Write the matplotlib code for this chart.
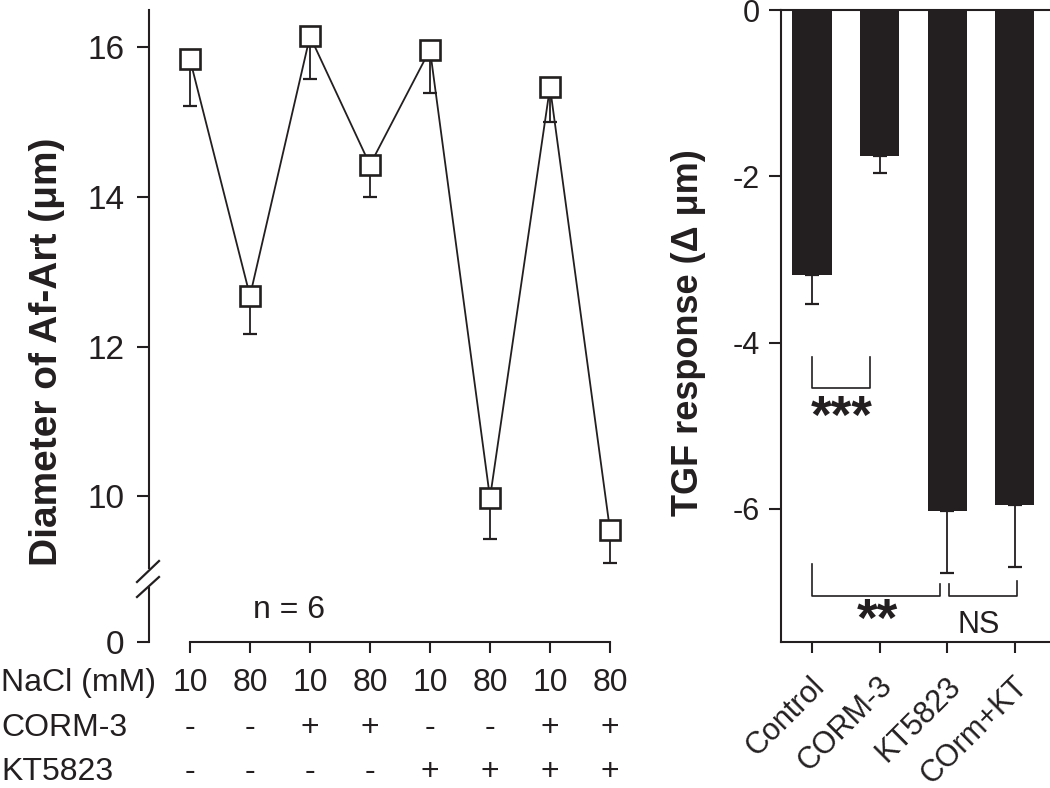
import numpy as np
import matplotlib
matplotlib.use("Agg")
import matplotlib.pyplot as plt
from matplotlib import transforms
from matplotlib.lines import Line2D

# ---------------- data ----------------
nacl_labels = ['10', '80', '10', '80', '10', '80', '10', '80']
corm_labels = ['-', '-', '+', '+', '-', '-', '+', '+']
kt_labels = ['-', '-', '-', '-', '+', '+', '+', '+']
diam_mean = [15.84, 12.68, 16.15, 14.43, 15.97, 9.98, 15.47, 9.55]
diam_sem = [0.62, 0.51, 0.57, 0.43, 0.58, 0.55, 0.47, 0.44]
diam_yticks = [10, 12, 14, 16]

groups = ['Control', 'CORM-3', 'KT5823', 'COrm+KT']
tgf_mean = [-3.19, -1.75, -6.02, -5.95]
tgf_sem = [0.34, 0.21, 0.75, 0.75]
tgf_yticks = [0, -2, -4, -6]

# ---------------- style ----------------
plt.rcParams['font.family'] = ['Liberation Sans', 'DejaVu Sans']
INK = '#231f20'
W, H = 1050, 788
fig = plt.figure(figsize=(10.5, 7.88), dpi=100)

def fx(px):
    return px / W

def fy(py):
    return 1 - py / H

SP_LW = 1.5
# ---------------- left: main (upper) axes ----------------
axL = fig.add_axes([fx(149), fy(568), fx(640 - 149), fy(10) - fy(568)])
axL.patch.set_alpha(0)
x = np.arange(len(diam_mean))
axL.errorbar(x, diam_mean, yerr=[diam_sem, np.zeros(len(diam_sem))], fmt='none',
             ecolor=INK, elinewidth=1.3, capsize=4.7, capthick=1.6, zorder=2)
axL.plot(x, diam_mean, '-', color=INK, lw=1.3, zorder=3)
axL.plot(x, diam_mean, 's', ms=14, mfc='white', mec=INK, mew=1.9, zorder=4)
axL.set_xlim(-0.683, 7.5)
axL.set_ylim(9.044, 16.50)
axL.set_yticks(diam_yticks)
axL.set_xticks([])
for s in ['top', 'right', 'bottom']:
    axL.spines[s].set_visible(False)
axL.spines['left'].set_linewidth(SP_LW)
axL.spines['left'].set_color(INK)
axL.tick_params(axis='y', length=8.5, width=SP_LW, color=INK, pad=9,
                labelsize=24, labelcolor=INK)

# ---------------- left: lower (broken) axes ----------------
axB = fig.add_axes([fx(149), fy(642), fx(640 - 149), fy(588) - fy(642)])
axB.patch.set_alpha(0)
axB.set_xlim(-0.683, 7.5)
axB.set_ylim(0, 1)
axB.set_yticks([0])
axB.set_xticks(x)
axB.set_xticklabels([])
for s in ['top', 'right']:
    axB.spines[s].set_visible(False)
for s in ['left', 'bottom']:
    axB.spines[s].set_linewidth(SP_LW)
    axB.spines[s].set_color(INK)
axB.spines['bottom'].set_bounds(0, len(x) - 1)
axB.tick_params(axis='y', length=8.5, width=SP_LW, color=INK, pad=9,
                labelsize=24, labelcolor=INK)
axB.tick_params(axis='x', length=8, width=SP_LW, color=INK)
axB.text(1.65, 0.6, 'n = 6', fontsize=23, color=INK, ha='center', va='center')

# break marks
for (x0, y0, x1, y1) in [(137, 582, 159, 561), (137, 597, 159, 577)]:
    fig.add_artist(Line2D([fx(x0), fx(x1)], [fy(y0), fy(y1)], color=INK, lw=1.6))

# condition rows
tr = transforms.blended_transform_factory(axB.transData, fig.transFigure)
rows = [('NaCl (mM)', nacl_labels, 683), ('CORM-3', corm_labels, 728), ('KT5823', kt_labels, 772)]
for name, labs, ypx in rows:
    fig.text(fx(1), fy(ypx), name, fontsize=23, color=INK, ha='left', va='center')
    for xi, lab in zip(x, labs):
        axB.text(xi, fy(ypx), lab, transform=tr, fontsize=23, color=INK,
                 ha='center', va='center')

fig.text(fx(47), fy(352), 'Diameter of Af-Art (μm)', rotation=90, fontsize=28,
         fontweight='bold', color=INK, ha='center', va='center')

# ---------------- right: bar chart ----------------
axR = fig.add_axes([fx(781), fy(642), fx(W - 781), fy(10) - fy(642)])
axR.patch.set_alpha(0)
xb = np.arange(len(groups))
axR.bar(xb, tgf_mean, width=0.58, color=INK, zorder=2)
axR.errorbar(xb, tgf_mean, yerr=[tgf_sem, np.zeros(len(tgf_sem))], fmt='none',
             ecolor=INK, elinewidth=1.3, capsize=4.7, capthick=1.6, zorder=3)
axR.set_xlim(-0.459, 3.52)
axR.set_ylim(-7.60, 0)
axR.set_yticks(tgf_yticks)
axR.set_yticklabels([f'{v:g}' for v in tgf_yticks])
axR.set_xticks(xb)
axR.set_xticklabels(groups, rotation=45, ha='right', va='top', rotation_mode='anchor')
axR.spines['right'].set_visible(False)
for s in ['left', 'bottom', 'top']:
    axR.spines[s].set_linewidth(SP_LW)
    axR.spines[s].set_color(INK)
axR.tick_params(axis='y', length=8.5, width=SP_LW, color=INK, pad=7,
                labelsize=22, labelcolor=INK)
axR.tick_params(axis='x', length=8, width=SP_LW, color=INK, pad=13,
                labelsize=22, labelcolor=INK)
off = transforms.ScaledTranslation(-2 / 100, 0, fig.dpi_scale_trans)
for lab in axR.get_xticklabels():
    lab.set_transform(lab.get_transform() + off)

# significance brackets
BLW = 1.2
axR.plot([0, 0, 0.86, 0.86], [-4.17, -4.55, -4.55, -4.17], color=INK, lw=BLW)
axR.text(0.44, -4.92, '***', fontsize=38, fontweight='bold', color=INK,
         ha='center', va='center')
axR.plot([0, 0, 1.89, 1.89], [-6.66, -7.05, -7.05, -6.90], color=INK, lw=BLW)
axR.text(0.96, -7.36, '**', fontsize=38, fontweight='bold', color=INK,
         ha='center', va='center')
axR.plot([2.03, 2.03, 3.03, 3.03], [-6.90, -7.05, -7.05, -6.87], color=INK, lw=BLW)
axR.text(2.46, -7.40, 'NS', fontsize=22, color=INK, ha='center', va='center')

fig.text(fx(688), fy(333), 'TGF response (Δ μm)', rotation=90, fontsize=26,
         fontweight='bold', color=INK, ha='center', va='center')

fig.savefig('out.png', dpi=100)
